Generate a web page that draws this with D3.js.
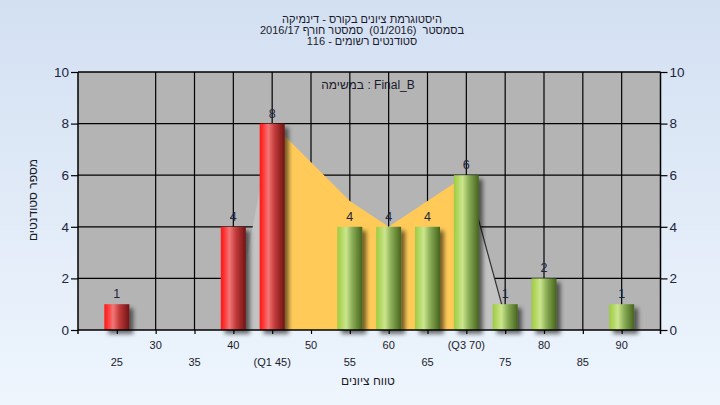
<!DOCTYPE html>
<html><head><meta charset="utf-8">
<script src="https://cdn.jsdelivr.net/npm/d3@7"></script>
<style>
html,body{margin:0;padding:0;}
svg{display:block;font-family:"Liberation Sans",Arial,"DejaVu Sans",sans-serif;}
text{white-space:pre;}
</style></head>
<body>
<svg id="chart" width="720" height="405"></svg>
<script>
// ---- data ----
const titleLines = ["היסטוגרמת ציונים בקורס - דינמיקה", "בסמסטר  (01/2016)  סמסטר חורף 2016/17", "סטודנטים רשומים - 116"];
const taskLabel = "במשימה : Final_B";
const yAxisTitle = "מספר סטודנטים";
const xAxisTitle = "טווח ציונים";
const barGrades = [25, 40, 45, 55, 60, 65, 70, 75, 80, 90];
const barCounts = [1, 4, 8, 4, 4, 4, 6, 1, 2, 1];
const boxGrades = [45, 50, 55, 60, 65, 70];
const boxValues = [8, 6.5, 5, 4, 5, 6];
const leftWhiskerGrades = [40, 45];
const leftWhiskerValues = [0, 8];
const rightWhiskerGrades = [70, 75];
const rightWhiskerValues = [6, 0.5];
const gridGrades = [30, 35, 40, 45, 50, 55, 60, 65, 70, 75, 80, 85, 90];
const tickGrades = [25, 30, 35, 40, 45, 50, 55, 60, 65, 70, 75, 80, 85, 90];
const row1Ticks = [30, 40, 50, 60, 70, 80, 90];
const row1Labels = ["30", "40", "50", "60", "(Q3 70)", "80", "90"];
const row2Ticks = [25, 35, 45, 55, 65, 75, 85];
const row2Labels = ["25", "35", "(Q1 45)", "55", "65", "75", "85"];
const yTicks = [0, 2, 4, 6, 8, 10];
const passGrade = 50;

// ---- layout ----
const svg = d3.select("#chart");
const L = 78, R = 660.5, T = 72, B = 330;
const x = d3.scaleLinear().domain([20, 95]).range([L, R]);
const y = d3.scaleLinear().domain([0, 10]).range([B, T]);
const barW = 25;

const defs = svg.append("defs");
const bg = defs.append("linearGradient").attr("id", "bg").attr("x1", 0).attr("y1", 0).attr("x2", 0).attr("y2", 1);
bg.append("stop").attr("offset", "0%").attr("stop-color", "#d3e0f2");
bg.append("stop").attr("offset", "100%").attr("stop-color", "#eef5fd");
function hgrad(id, stops) {
  const g = defs.append("linearGradient").attr("id", id).attr("x1", 0).attr("y1", 0).attr("x2", 1).attr("y2", 0);
  stops.forEach(s => g.append("stop").attr("offset", s[0]).attr("stop-color", s[1]));
}
hgrad("red", [["0%", "#ff1616"], ["12%", "#ff3030"], ["35%", "#f27676"], ["60%", "#c23a3a"], ["100%", "#701414"]]);
hgrad("green", [["0%", "#9dcb45"], ["12%", "#add458"], ["35%", "#cbe68e"], ["60%", "#8aad56"], ["100%", "#46641c"]]);
const f = defs.append("filter").attr("id", "sh").attr("x", "-20%").attr("y", "-20%").attr("width", "160%").attr("height", "160%");
f.append("feDropShadow").attr("dx", 4).attr("dy", 4).attr("stdDeviation", 2).attr("flood-color", "#000").attr("flood-opacity", 0.55);

svg.append("rect").attr("width", 720).attr("height", 405).attr("fill", "url(#bg)");

// title
svg.append("g").selectAll("text").data(titleLines).join("text")
  .attr("x", 362).attr("y", (d, i) => 23 + i * 11.2)
  .attr("text-anchor", "middle").attr("direction", "rtl")
  .attr("font-size", 11).attr("fill", "#1a1a2a").text(d => d);

// plot area
svg.append("rect").attr("x", L).attr("y", T).attr("width", R - L).attr("height", B - T).attr("fill", "#b4b4b4");

// gridlines
svg.append("g").selectAll("line").data(yTicks.filter(d => d > 0)).join("line")
  .attr("x1", L).attr("x2", R).attr("y1", d => y(d)).attr("y2", d => y(d))
  .attr("stroke", "#000").attr("stroke-width", 1.2);
svg.append("g").selectAll("line").data(gridGrades).join("line")
  .attr("x1", d => x(d)).attr("x2", d => x(d)).attr("y1", T).attr("y2", B)
  .attr("stroke", "#000").attr("stroke-width", 1.2);

// areas
const area = d3.area().x(d => x(d[0])).y0(y(0)).y1(d => y(d[1]));
svg.append("path").attr("d", area(leftWhiskerGrades.map((g, i) => [g, leftWhiskerValues[i]])))
  .attr("fill", "#c3c3c3");
svg.append("path").attr("d", area(rightWhiskerGrades.map((g, i) => [g, rightWhiskerValues[i]])))
  .attr("fill", "#c3c3c3");
svg.append("path").attr("d", d3.line().x(d => x(d[0])).y(d => y(d[1]))(rightWhiskerGrades.map((g, i) => [g, rightWhiskerValues[i]])))
  .attr("stroke", "#303030").attr("stroke-width", 1.2).attr("fill", "none");
svg.append("path").attr("d", area(boxGrades.map((g, i) => [g, boxValues[i]])))
  .attr("fill", "#ffca58");

// bars
const bars = barGrades.map((g, i) => ({ g, c: barCounts[i] }));
svg.append("g").selectAll("rect").data(bars).join("rect")
  .attr("x", d => x(d.g) - barW / 2).attr("width", barW)
  .attr("y", d => y(d.c)).attr("height", d => y(0) - y(d.c))
  .attr("fill", d => d.g < passGrade ? "url(#red)" : "url(#green)")
  .attr("filter", "url(#sh)");
svg.append("g").selectAll("text").data(bars).join("text")
  .attr("x", d => x(d.g)).attr("y", d => y(d.c) - 6)
  .attr("text-anchor", "middle").attr("font-size", 12.5).attr("fill", "#1c2540")
  .text(d => d.c);

// task label
svg.append("text").attr("x", 368).attr("y", 89).attr("text-anchor", "middle")
  .attr("font-size", 12).attr("fill", "#1a1a2a").text(taskLabel);

// frame / axes
svg.append("line").attr("x1", L).attr("x2", R).attr("y1", T).attr("y2", T).attr("stroke", "#000").attr("stroke-width", 1.2);
svg.append("line").attr("x1", L).attr("x2", R).attr("y1", B).attr("y2", B).attr("stroke", "#000").attr("stroke-width", 1.5);
svg.append("line").attr("x1", L).attr("x2", L).attr("y1", T).attr("y2", B + 4).attr("stroke", "#000").attr("stroke-width", 1.5);
svg.append("line").attr("x1", R).attr("x2", R).attr("y1", T).attr("y2", B + 4).attr("stroke", "#000").attr("stroke-width", 1.5);

const yl = svg.append("g").attr("transform", `translate(${L},0)`)
  .call(d3.axisLeft(y).tickValues(yTicks).tickSize(7).tickPadding(2).tickFormat(d3.format("d")));
const yr = svg.append("g").attr("transform", `translate(${R},0)`)
  .call(d3.axisRight(y).tickValues(yTicks).tickSize(7).tickPadding(2).tickFormat(d3.format("d")));
[yl, yr].forEach(g => {
  g.select(".domain").remove();
  g.selectAll("line").attr("stroke", "#000").attr("stroke-width", 1.2);
  g.selectAll("text").attr("font-size", 13.5).attr("fill", "#1c2540")
    .attr("font-family", "'Liberation Sans',Arial,sans-serif");
});

const xa = svg.append("g").attr("transform", `translate(0,${B})`)
  .call(d3.axisBottom(x).tickValues(tickGrades).tickSize(4).tickFormat(""));
xa.select(".domain").remove();
xa.selectAll("line").attr("stroke", "#000").attr("stroke-width", 1.2);

svg.append("g").selectAll("text").data(row1Ticks).join("text")
  .attr("x", d => x(d)).attr("y", 349).attr("text-anchor", "middle")
  .attr("font-size", 11).attr("fill", "#1a1a2a").text((d, i) => row1Labels[i]);
svg.append("g").selectAll("text").data(row2Ticks).join("text")
  .attr("x", d => x(d)).attr("y", 366).attr("text-anchor", "middle")
  .attr("font-size", 11).attr("fill", "#1a1a2a").text((d, i) => row2Labels[i]);

svg.append("text").attr("x", 368).attr("y", 385).attr("text-anchor", "middle")
  .attr("font-size", 12).attr("fill", "#1a1a2a").text(xAxisTitle);
svg.append("text").attr("transform", "translate(37,200) rotate(-90)").attr("text-anchor", "middle")
  .attr("font-size", 12).attr("fill", "#1a1a2a").text(yAxisTitle);
</script>
</body></html>
